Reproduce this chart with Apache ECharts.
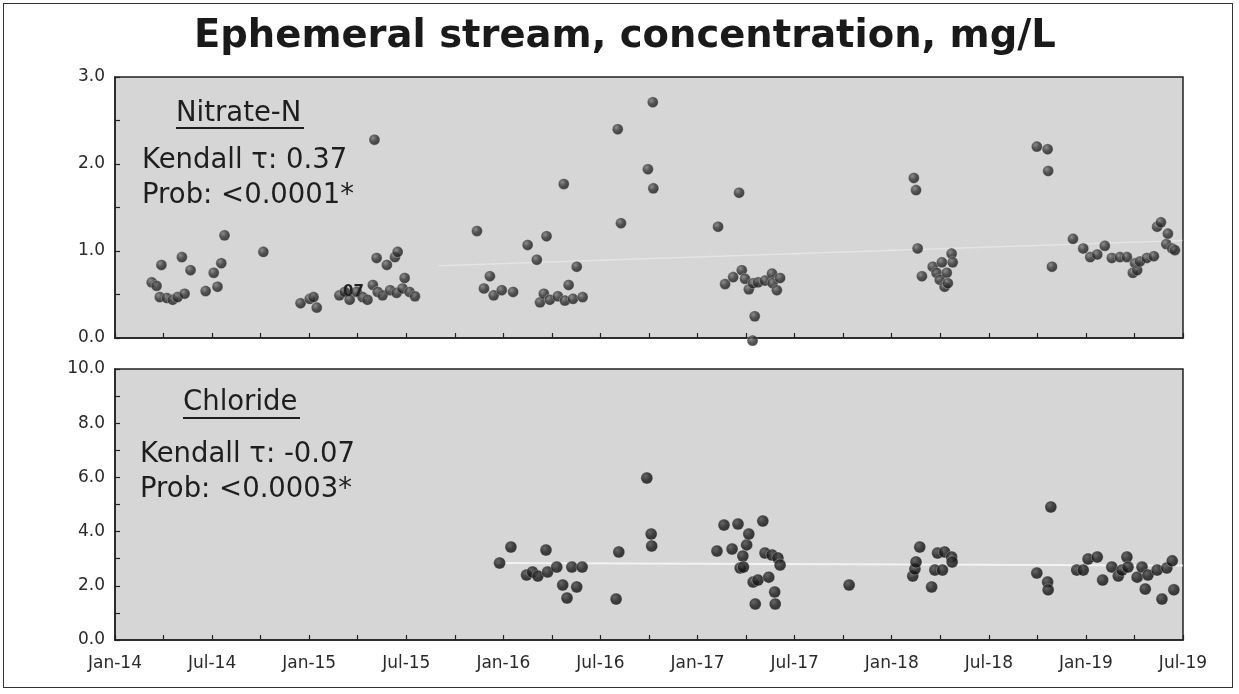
<!DOCTYPE html>
<html>
<head>
<meta charset="utf-8">
<title>Ephemeral stream, concentration</title>
<script src="https://cdn.jsdelivr.net/npm/echarts@6/dist/echarts.min.js"></script>
<style>
  html, body { margin: 0; padding: 0; background: #fff; }
  #wrap { position: relative; width: 1239px; height: 694px; }
  #chart { position: absolute; left: 0; top: 0; width: 1239px; height: 694px; }
  #frame { position: absolute; left: 3px; top: 3px; width: 1228px; height: 683px; border: 1.5px solid #333; pointer-events: none; }
</style>
</head>
<body>
<div id="wrap">
  <div id="chart"></div>
  <div id="frame"></div>
</div>
<script>
// x ticks: one every 3 months, labels every 6 months from Jan-14 to Jul-19
const monthNames = ["Jan", "Feb", "Mar", "Apr", "May", "Jun", "Jul", "Aug", "Sep", "Oct", "Nov", "Dec"];
const startYear = 2014;

// Nitrate-N samples (mg/L)
const nitrateDates = [
  "2014-03-09", "2014-03-18", "2014-03-24", "2014-03-27", "2014-04-07", "2014-04-18", "2014-04-27", "2014-05-05",
  "2014-05-10", "2014-05-21", "2014-06-19", "2014-07-04", "2014-07-11", "2014-07-18", "2014-07-24", "2014-10-06",
  "2014-12-15", "2015-01-02", "2015-01-09", "2015-01-15", "2015-02-27", "2015-03-07", "2015-03-16", "2015-03-29",
  "2015-04-10", "2015-04-19", "2015-04-29", "2015-05-02", "2015-05-06", "2015-05-08", "2015-05-17", "2015-05-25",
  "2015-06-01", "2015-06-10", "2015-06-13", "2015-06-15", "2015-06-24", "2015-06-28", "2015-07-07", "2015-07-17",
  "2015-11-12", "2015-11-25", "2015-12-06", "2015-12-13", "2015-12-28", "2016-01-19", "2016-02-16", "2016-03-03",
  "2016-03-09", "2016-03-16", "2016-03-21", "2016-03-27", "2016-04-12", "2016-04-23", "2016-04-25", "2016-05-02",
  "2016-05-10", "2016-05-17", "2016-05-28", "2016-08-03", "2016-08-09", "2016-09-29", "2016-10-08", "2016-10-09",
  "2017-02-09", "2017-02-22", "2017-03-07", "2017-03-18", "2017-03-23", "2017-03-29", "2017-04-06", "2017-04-14",
  "2017-04-13", "2017-04-17", "2017-04-23", "2017-05-06", "2017-05-19", "2017-05-20", "2017-05-28", "2017-06-04",
  "2018-02-12", "2018-02-16", "2018-02-19", "2018-02-27", "2018-03-17", "2018-03-24", "2018-03-30", "2018-04-04",
  "2018-04-09", "2018-04-13", "2018-04-15", "2018-04-22", "2018-04-24", "2018-09-30", "2018-10-20", "2018-10-21",
  "2018-10-28", "2018-12-07", "2018-12-26", "2019-01-09", "2019-01-22", "2019-02-06", "2019-02-19", "2019-03-04",
  "2019-03-17", "2019-03-28", "2019-04-02", "2019-04-06", "2019-04-11", "2019-04-24", "2019-05-07", "2019-05-13",
  "2019-05-20", "2019-05-30", "2019-06-03", "2019-06-11", "2019-06-16"
];
const nitrateValues = [
  0.64, 0.60, 0.47, 0.84, 0.46, 0.44, 0.47, 0.93,
  0.51, 0.78, 0.54, 0.75, 0.59, 0.86, 1.18, 0.99,
  0.40, 0.45, 0.47, 0.35, 0.49, 0.53, 0.44, 0.53,
  0.47, 0.44, 0.61, 2.28, 0.92, 0.53, 0.49, 0.84,
  0.55, 0.93, 0.52, 0.99, 0.57, 0.69, 0.53, 0.48,
  1.23, 0.57, 0.71, 0.49, 0.55, 0.53, 1.07, 0.90,
  0.41, 0.51, 1.17, 0.44, 0.48, 1.77, 0.43, 0.61,
  0.45, 0.82, 0.47, 2.40, 1.32, 1.94, 2.71, 1.72,
  1.28, 0.62, 0.70, 1.67, 0.78, 0.68, 0.56, 0.63,
  -0.03, 0.25, 0.64, 0.66, 0.74, 0.63, 0.55, 0.69,
  1.84, 1.70, 1.03, 0.71, 0.82, 0.75, 0.67, 0.87,
  0.59, 0.75, 0.63, 0.97, 0.87, 2.20, 2.17, 1.92,
  0.82, 1.14, 1.03, 0.93, 0.96, 1.06, 0.92, 0.93,
  0.93, 0.75, 0.86, 0.78, 0.88, 0.92, 0.94, 1.28,
  1.33, 1.08, 1.20, 1.03, 1.01
];

// Chloride samples (mg/L)
const chlorideDates = [
  "2015-12-24", "2016-01-15", "2016-02-14", "2016-02-25", "2016-03-05", "2016-03-20", "2016-03-23", "2016-04-10",
  "2016-04-21", "2016-04-29", "2016-05-08", "2016-05-17", "2016-05-27", "2016-07-30", "2016-08-05", "2016-09-27",
  "2016-10-05", "2016-10-06", "2017-02-07", "2017-02-20", "2017-03-05", "2017-03-16", "2017-03-20", "2017-03-25",
  "2017-03-26", "2017-04-02", "2017-04-06", "2017-04-14", "2017-04-18", "2017-04-23", "2017-05-02", "2017-05-06",
  "2017-05-13", "2017-05-19", "2017-05-24", "2017-05-25", "2017-05-30", "2017-06-04", "2017-10-12", "2018-02-10",
  "2018-02-14", "2018-02-16", "2018-02-23", "2018-03-15", "2018-03-21", "2018-03-26", "2018-04-05", "2018-04-09",
  "2018-04-22", "2018-04-23", "2018-09-30", "2018-10-20", "2018-10-21", "2018-10-26", "2018-12-14", "2018-12-26",
  "2019-01-05", "2019-01-22", "2019-02-02", "2019-02-19", "2019-03-01", "2019-03-08", "2019-03-17", "2019-03-19",
  "2019-04-06", "2019-04-15", "2019-04-21", "2019-04-26", "2019-05-13", "2019-05-22", "2019-06-01", "2019-06-11",
  "2019-06-14"
];
const chlorideValues = [
  2.84, 3.43, 2.40, 2.51, 2.36, 3.32, 2.51, 2.69,
  2.03, 1.55, 2.69, 1.96, 2.69, 1.51, 3.25, 5.98,
  3.91, 3.47, 3.28, 4.24, 3.36, 4.28, 2.66, 3.10,
  2.69, 3.51, 3.91, 2.14, 1.33, 2.21, 4.39, 3.21,
  2.32, 3.14, 1.77, 1.33, 3.03, 2.77, 2.03, 2.36,
  2.62, 2.88, 3.43, 1.96, 2.58, 3.21, 2.58, 3.25,
  3.06, 2.88, 2.47, 2.14, 1.85, 4.91, 2.58, 2.58,
  2.99, 3.06, 2.21, 2.69, 2.36, 2.58, 3.06, 2.69,
  2.32, 2.69, 1.88, 2.40, 2.58, 1.51, 2.66, 2.92,
  1.85
];

// faint white trend lines seen in the scan
const nitrateTrendDates = ["2015-09-01", "2019-07-01"];
const nitrateTrendValues = [0.83, 1.12];
const chlorideTrendDates = ["2015-12-15", "2019-07-01"];
const chlorideTrendValues = [2.84, 2.75];

// months since Jan 2014
function toMonths(s) {
  const p = s.split("-").map(Number);
  return (p[0] - startYear) * 12 + (p[1] - 1) + (p[2] - 1) / 30;
}
function pairs(dates, values) {
  return dates.map((d, i) => [toMonths(d), values[i]]);
}

const font = "DejaVu Sans";
const axisColor = "#222";

const ball = {
  type: "radial", x: 0.38, y: 0.35, r: 0.7,
  colorStops: [
    { offset: 0, color: "#7a7a7a" },
    { offset: 0.45, color: "#333" },
    { offset: 1, color: "#121212" }
  ]
};
const ballDark = {
  type: "radial", x: 0.38, y: 0.35, r: 0.7,
  colorStops: [
    { offset: 0, color: "#4a4a4a" },
    { offset: 0.5, color: "#181818" },
    { offset: 1, color: "#080808" }
  ]
};

function xAxis(gridIndex, showLabels) {
  return {
    type: "value",
    gridIndex: gridIndex,
    min: 0,
    max: 66,
    interval: 3,
    axisLine: { show: true, lineStyle: { color: axisColor, width: 1.5 } },
    axisTick: { show: true, inside: true, length: 5, lineStyle: { color: axisColor, width: 1.2 } },
    splitLine: { show: false },
    axisLabel: {
      show: showLabels,
      margin: 15,
      color: "#2a2a2a",
      fontFamily: font,
      fontSize: 17,
      formatter: (v) => {
        if (v % 6 !== 0) return "";
        const y = startYear + Math.floor(v / 12);
        return monthNames[v % 12] + "-" + String(y).slice(2);
      }
    }
  };
}

function yAxis(gridIndex, max, interval, labelStep) {
  return {
    type: "value",
    gridIndex: gridIndex,
    min: 0,
    max: max,
    interval: interval,
    axisLine: { show: true, lineStyle: { color: axisColor, width: 1.5 } },
    axisTick: { show: true, inside: true, length: 5, lineStyle: { color: axisColor, width: 1.2 } },
    splitLine: { show: false },
    axisLabel: {
      margin: 10,
      color: "#2a2a2a",
      fontFamily: font,
      fontSize: 17,
      formatter: (v) => (Math.abs(v / labelStep - Math.round(v / labelStep)) < 1e-9 ? v.toFixed(1) : "")
    }
  };
}

const noteStyle = { fontFamily: font, fontSize: 27.5, fill: "#1e1e1e" };
function note(x, y, text) {
  return { type: "text", left: x, top: y, style: Object.assign({ text: text }, noteStyle) };
}

const chart = echarts.init(document.getElementById("chart"));

const option = {
  backgroundColor: "#ffffff",
  animation: false,
  grid: [
    { left: 115, top: 77, width: 1068, height: 261, show: true, backgroundColor: "#d6d6d6", borderColor: axisColor, borderWidth: 1.5 },
    { left: 115, top: 369, width: 1068, height: 271, show: true, backgroundColor: "#d6d6d6", borderColor: axisColor, borderWidth: 1.5 }
  ],
  xAxis: [xAxis(0, false), xAxis(1, true)],
  yAxis: [yAxis(0, 3, 0.5, 1), yAxis(1, 10, 1, 2)],
  graphic: [
    {
      type: "text", left: 194, top: 17,
      style: { text: "Ephemeral stream, concentration, mg/L", fontFamily: font, fontSize: 38.5, fontWeight: "bold", fill: "#1a1a1a" }
    },
    // Nitrate-N panel notes
    note(176, 100, "Nitrate-N"),
    { type: "line", shape: { x1: 176, y1: 128, x2: 304, y2: 128 }, style: { stroke: "#1e1e1e", lineWidth: 2 } },
    note(142, 147, "Kendall τ: 0.37"),
    note(142, 182, "Prob: <0.0001*"),
    { type: "text", left: 343, top: 285, z: 10, style: { text: "07", fontFamily: font, fontSize: 15, fontWeight: "bold", fill: "#222" } },
    // Chloride panel notes
    note(183, 389, "Chloride"),
    { type: "line", shape: { x1: 183, y1: 418, x2: 300, y2: 418 }, style: { stroke: "#1e1e1e", lineWidth: 2 } },
    note(140, 441, "Kendall τ: -0.07"),
    note(140, 476, "Prob: <0.0003*")
  ],
  series: [
    {
      name: "Nitrate trend", type: "line", xAxisIndex: 0, yAxisIndex: 0,
      data: pairs(nitrateTrendDates, nitrateTrendValues),
      symbol: "none", lineStyle: { color: "#ffffff", width: 1.5, opacity: 0.35 }, z: 1
    },
    {
      name: "Chloride trend", type: "line", xAxisIndex: 1, yAxisIndex: 1,
      data: pairs(chlorideTrendDates, chlorideTrendValues),
      symbol: "none", lineStyle: { color: "#ffffff", width: 2, opacity: 0.7 }, z: 1
    },
    {
      name: "Nitrate-N", type: "scatter", xAxisIndex: 0, yAxisIndex: 0,
      data: pairs(nitrateDates, nitrateValues),
      symbolSize: 11, clip: false,
      itemStyle: { color: ball, borderColor: "rgba(235,235,235,0.5)", borderWidth: 0.8 }, z: 3
    },
    {
      name: "Chloride", type: "scatter", xAxisIndex: 1, yAxisIndex: 1,
      data: pairs(chlorideDates, chlorideValues),
      symbolSize: 12, clip: false,
      itemStyle: { color: ballDark, borderColor: "rgba(235,235,235,0.5)", borderWidth: 0.8 }, z: 3
    }
  ]
};

chart.setOption(option);
</script>
</body>
</html>
